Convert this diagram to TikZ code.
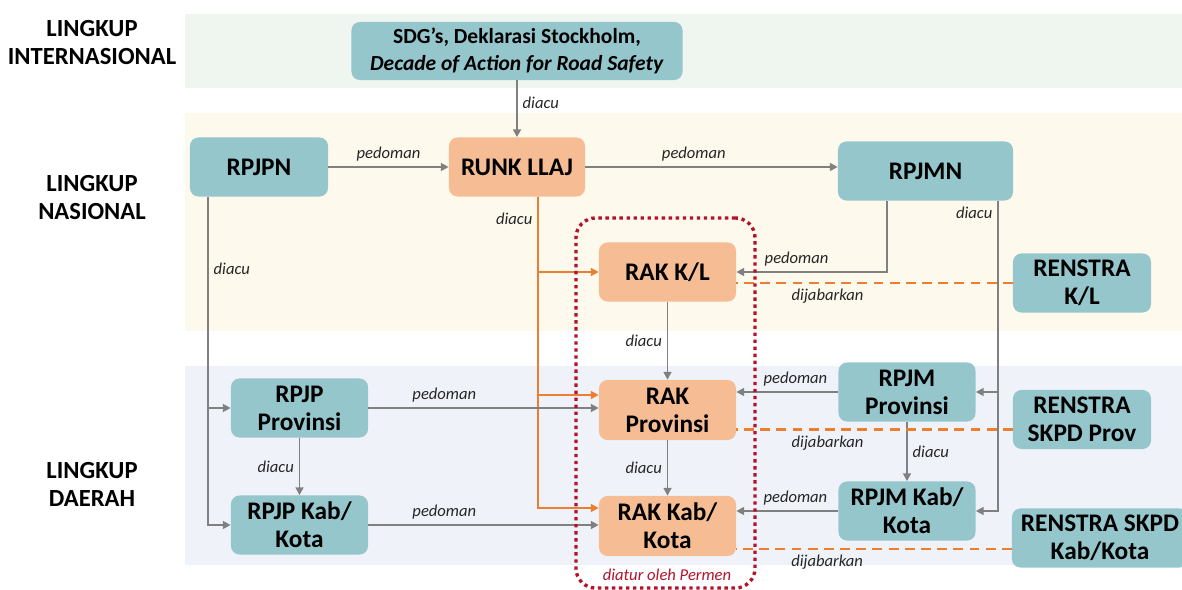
\documentclass[tikz,border=0pt]{standalone}
\usepackage{fontspec}
\setmainfont{Carlito}
\usepackage{tikz}
\usetikzlibrary{arrows.meta, positioning, calc}
\definecolor{boxteal}{RGB}{148,198,204}
\definecolor{boxorange}{RGB}{246,189,148}
\definecolor{linegray}{RGB}{128,128,128}
\definecolor{lineorange}{RGB}{237,125,49}
\definecolor{permenred}{RGB}{180,18,40}
\definecolor{bandgreen}{RGB}{239,246,239}
\definecolor{bandcream}{RGB}{254,249,237}
\definecolor{bandblue}{RGB}{239,243,249}
\definecolor{labelgray}{RGB}{38,38,38}

\begin{document}
\begin{tikzpicture}[x=0.025cm, y=-0.025cm,
    planbox/.style={rounded corners=6pt, inner sep=0pt, align=center,
      font=\bfseries\fontsize{18}{20}\selectfont,
      minimum width=3.425cm, minimum height=1.475cm},
    tealbox/.style={planbox, fill=boxteal},
    orangebox/.style={planbox, fill=boxorange},
    scopelabel/.style={font=\bfseries\fontsize{17.5}{19.8}\selectfont, align=center},
    edgelabel/.style={font=\itshape\fontsize{11.8}{13}\selectfont, text=labelgray},
    grayarrow/.style={draw=linegray, line width=1.4pt,
      -{Triangle[length=5.5pt,width=5.5pt]}},
    orangearrow/.style={draw=lineorange, line width=1.4pt,
      -{Triangle[length=5.5pt,width=5.5pt]}},
    dashedlink/.style={draw=lineorange, line width=2pt, dash pattern=on 7pt off 4.5pt}]
  \useasboundingbox (0,0) rectangle (1182,590);
  % latar tiap lingkup
  \fill[bandgreen] (185,14) rectangle (1182,88);
  \fill[bandcream] (185,113) rectangle (1182,331);
  \fill[bandblue] (185,366) rectangle (1182,565);
  \node[scopelabel] (intl) at (92,42.5) {LINGKUP\\INTERNASIONAL};
  \node[scopelabel] (nasional) at (92,197.5) {LINGKUP\\NASIONAL};
  \node[scopelabel] (daerah) at (92,484.5) {LINGKUP\\DAERAH};

  % dokumen
  \node[tealbox, minimum width=8.275cm, minimum height=1.45cm,
        font=\bfseries\fontsize{15.3}{19}\selectfont] (sdg) at (517,51)
        {SDG’s, Deklarasi Stockholm,\\\textit{Decade of Action for Road Safety}};
  \node[tealbox, minimum width=3.45cm] (rpjpn) at (259,167) {RPJPN};
  \node[orangebox, minimum width=3.4cm] (runk) at (517,167) {RUNK LLAJ};
  \node[tealbox, minimum width=4.375cm] (rpjmn) at (925.5,171) {RPJMN};
  \node[orangebox] (rakkl) at (667.5,272) {RAK K/L};
  \node[tealbox, minimum width=3.45cm] (renstrakl) at (1082,283) {RENSTRA\\K/L};
  \node[tealbox] (rpjpprov) at (299.5,408) {RPJP\\Provinsi};
  \node[orangebox, minimum height=1.5cm] (rakprov) at (667.5,410) {RAK\\Provinsi};
  \node[tealbox] (rpjmprov) at (907,392) {RPJM\\Provinsi};
  \node[tealbox, minimum width=3.45cm] (renstraprov) at (1082,419.5) {RENSTRA\\SKPD Prov};
  \node[tealbox] (rpjpkab) at (299.5,525) {RPJP Kab/\\Kota};
  \node[orangebox, minimum height=1.5cm] (rakkab) at (667.5,526) {RAK Kab/\\Kota};
  \node[tealbox] (rpjmkab) at (907,511) {RPJM Kab/\\Kota};
  \node[tealbox, minimum width=4.4cm] (renstrakab) at (1100,538) {RENSTRA SKPD\\Kab/Kota};

  % titik bantu
  \coordinate (rpjpnbus) at (208,0);
  \coordinate (runkbus) at (538,0);
  \coordinate (rpjmnleft) at (887,0);
  \coordinate (rpjmnbus) at (998,0);
  \coordinate (provbranch) at ($(rakprov.west)+(0,-15)$);
  \coordinate (kabbranch) at ($(rakkab.west)+(0,-18)$);
  \coordinate (provdash) at ($(renstraprov.west)+(0,10)$);
  \coordinate (kabdash) at ($(renstrakab.west)+(0,11)$);

  % hubungan
  \draw[grayarrow] (sdg) -- node[edgelabel, right, pos=0.4] {diacu} (runk);
  \draw[grayarrow] (rpjpn) -- node[edgelabel, above] {pedoman} (runk);
  \draw[grayarrow] (runk) -- node[edgelabel, above, pos=0.43] {pedoman} (runk -| rpjmn.west);
  \draw[grayarrow] (rpjpn.south -| rpjpnbus) |- node[edgelabel, right, pos=0.11] {diacu} (rpjpkab);
  \draw[grayarrow] (rpjpnbus |- rpjpprov) -- (rpjpprov);
  \draw[orangearrow] (runk.south -| runkbus) |- node[edgelabel, left, pos=0.035] {diacu} (kabbranch);
  \draw[orangearrow] (runkbus |- rakkl) -- (rakkl);
  \draw[orangearrow] (runkbus |- provbranch) -- (provbranch);
  \draw[grayarrow] (rpjmn.south -| rpjmnleft) |- node[edgelabel, above, pos=0.8] {pedoman} (rakkl);
  \draw[grayarrow] (rpjmn.south -| rpjmnbus) |- node[edgelabel, left, pos=0.02] {diacu} (rpjmkab);
  \draw[grayarrow] (rpjmnbus |- rpjmprov) -- (rpjmprov);
  \draw[grayarrow] (rakkl) -- node[edgelabel, left] {diacu} (rakprov);
  \draw[grayarrow] (rakprov) -- node[edgelabel, left] {diacu} (rakkab);
  \draw[grayarrow] (rpjpprov) -- node[edgelabel, left] {diacu} (rpjpkab);
  \draw[grayarrow] (rpjmprov) -- node[edgelabel, right] {diacu} (rpjmkab);
  \draw[grayarrow] (rpjpprov) -- node[edgelabel, above, pos=0.33] {pedoman} (rpjpprov -| rakprov.west);
  \draw[grayarrow] (rpjpkab) -- node[edgelabel, above, pos=0.33] {pedoman} (rpjpkab -| rakkab.west);
  \draw[grayarrow] (rpjmprov) -- node[edgelabel, above, pos=0.42] {pedoman} (rpjmprov -| rakprov.east);
  \draw[grayarrow] (rpjmkab) -- node[edgelabel, above, pos=0.42] {pedoman} (rpjmkab -| rakkab.east);
  \draw[dashedlink] (renstrakl) -- node[edgelabel, below, pos=0.67] {dijabarkan} (renstrakl -| rakkl.east);
  \draw[dashedlink] (provdash) -- node[edgelabel, below, pos=0.67] {dijabarkan} (provdash -| rakprov.east);
  \draw[dashedlink] (kabdash) -- node[edgelabel, below, pos=0.67] {dijabarkan} (kabdash -| rakkab.east);

  % bingkai Permen
  \node[draw=permenred, line width=2.4pt, dash pattern=on 2.4pt off 2.6pt,
        rounded corners=14pt, inner sep=0pt,
        minimum width=4.475cm, minimum height=9.25cm] (permen) at (665.5,403) {};
  \node[font=\itshape\fontsize{11.8}{13}\selectfont, text=permenred] (permenlabel)
        at (667,575) {diatur oleh Permen};
\end{tikzpicture}
\end{document}
